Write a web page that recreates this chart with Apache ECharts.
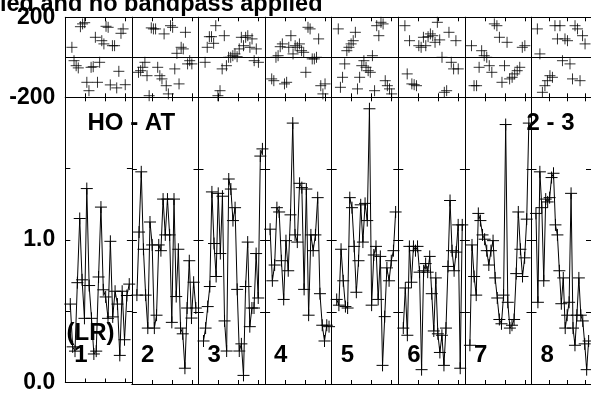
<!DOCTYPE html>
<html>
<head>
<meta charset="utf-8">
<script src="https://cdn.jsdelivr.net/npm/echarts@6/dist/echarts.min.js"></script>
<style>
html, body { margin: 0; padding: 0; background: #fff; }
#main { width: 591px; height: 394px; }
</style>
</head>
<body>
<div id="main"></div>
<script>
// amplitude per scan (lower panel)
var amp1 = [0.55, 0.25, 0.22, 0.70, 1.15, 0.72, 0.45, 1.36, 0.68, 0.45, 0.20, 0.22, 0.74, 1.23, 0.65, 0.60, 0.45, 0.99, 0.46, 0.64, 0.55, 0.19, 0.64, 0.30, 0.61, 0.69];
var amp2 = [0.62, 1.06, 1.48, 0.94, 0.62, 0.39, 1.13, 0.97, 0.39, 0.48, 0.97, 0.93, 1.29, 1.04, 1.29, 1.04, 0.43, 1.29, 0.61, 0.94, 0.39, 0.35, 0.11, 0.53, 0.86, 0.46, 0.71, 0.53];
var amp3 = [0.30, 0.39, 0.54, 0.68, 1.34, 0.98, 0.75, 1.33, 0.91, 1.31, 0.44, 0.23, 1.43, 1.36, 1.14, 1.23, 0.66, 0.23, 0.28, 0.06, 0.68, 0.99, 0.40, 0.53, 0.53, 0.91, 0.60, 1.59, 1.64];
var amp4 = [1.08, 0.72, 0.83, 1.23, 1.20, 0.86, 0.59, 1.00, 0.79, 1.18, 1.82, 1.04, 0.99, 1.40, 1.37, 0.66, 1.36, 0.48, 1.04, 0.93, 1.04, 1.30, 0.63, 0.41, 0.30, 0.41, 0.40];
var amp5 = [0.59, 0.55, 0.94, 0.72, 0.54, 0.53, 1.30, 1.23, 0.96, 0.64, 0.86, 1.25, 0.99, 1.26, 1.14, 1.92, 0.55, 0.90, 0.96, 0.59, 0.89, 0.13, 0.47, 0.81, 0.72, 0.86, 0.93, 1.20];
var amp6 = [0.39, 0.67, 0.34, 0.96, 0.71, 0.96, 0.93, 0.96, 0.78, 0.10, 0.79, 0.84, 0.78, 0.89, 0.63, 0.37, 0.74, 0.35, 0.22, 0.34, 0.13, 0.39, 0.82, 1.28, 0.93, 0.79, 0.92, 1.11, 0.11, 1.11];
var amp7 = [0.27, 0.97, 0.75, 0.62, 1.19, 1.14, 1.04, 1.01, 0.93, 0.83, 0.93, 1.00, 0.74, 0.60, 0.45, 0.42, 0.62, 1.81, 0.57, 0.39, 0.41, 0.45, 0.77, 1.20, 0.94, 0.75, 0.88, 1.15, 1.82];
var amp8 = [1.19, 0.57, 1.48, 1.23, 0.72, 1.29, 1.27, 1.30, 1.44, 1.47, 1.11, 1.04, 0.79, 0.56, 0.74, 0.39, 0.48, 0.57, 1.33, 0.39, 0.27, 0.48, 0.74, 0.48, 0.44, 0.28, 0.10, 0.30];

// phase per scan (upper panel), degrees
var ph1 = [50, -17, -42, -53, 153, 167, 173, -125, -167, -50, -47, 100, -125, -25, 83, 67, 155, 150, -138, 58, 58, -153, -70, 120, 142, -137];
var ph2 = [-75, -67, -50, -25, -92, -192, 147, 142, 142, -50, -92, -108, 117, -142, -183, 158, 150, -58, 20, -133, 50, 42, 125, -33, -17, -33];
var ph3 = [-25, 50, 103, 103, 70, 158, -192, -167, -58, 108, -42, 0, 0, 8, 17, 3, 42, 100, 58, 100, 108, 50, 92, -17, 42, -25];
var ph4 = [-108, -117, 0, 8, 53, 67, -133, -125, 50, 108, 17, 58, 50, 67, 33, 25, -75, 150, 142, -8, -8, 0, 92, -142, -183, -133];
var ph5 = [142, -150, -100, -33, 33, 50, 67, 83, 125, -158, -100, -42, -17, -50, -67, -75, 8, -167, 158, 108, 175, 167, -117, -142, -158, -183];
var ph6 = [158, -83, 83, -133, -137, -142, 58, 50, 100, 58, 103, 117, 108, 75, 175, 87, 0, -175, -167, 125, -25, -58, 83, -58];
var ph7 = [58, -142, -142, -50, 33, 8, 0, -42, -75, 167, 158, 100, -125, -42, 75, -108, -100, -83, -67, -50, 50, 58];
var ph8 = [142, 17, -175, -142, -117, -92, -100, 158, 92, 158, -17, 92, 83, -33, -108, 158, 142, -117, 108, 67];

var scanNames = ['1', '2', '3', '4', '5', '6', '7', '8'];
var baselineName = 'HO - AT';
var ifName = '2 - 3';
var polName = '(LR)';
var titleText = 'ied and no bandpass applied';
var ampLabels = { 0: '0.0', 1: '1.0' };
var phLabels = { 200: '200', '-200': '-200' };

var amps = [amp1, amp2, amp3, amp4, amp5, amp6, amp7, amp8];
var phs = [ph1, ph2, ph3, ph4, ph5, ph6, ph7, ph8];

var FONT = '"Liberation Sans", Arial, Helvetica, sans-serif';
var segLeft = 65.3, segW = 66.6;
var phTop = 17.3, phH = 80;
var ampTop = 97.3, ampH = 286.7;
var tMax = 10 / 3;
var cross = 'path://M0 6L12 6M6 0L6 12';

// sample time inside a scan (evenly spaced)
function tAt(k, n, t0, t1) {
	return t0 + k * (t1 - t0) / (n - 1);
}

function mkX(g, pos) {
	return {
		type: 'value', gridIndex: g, position: pos, min: 0, max: tMax, interval: 1,
		axisLine: { show: true, onZero: false, lineStyle: { color: '#000', width: 1 } },
		axisTick: { show: true, inside: true, length: 4, lineStyle: { color: '#000' } },
		axisLabel: { show: false },
		splitLine: { show: false }
	};
}

function mkY(g, pos, isAmp, withLabel) {
	var y = {
		type: 'value', gridIndex: g, position: pos,
		axisLine: { show: true, onZero: false, lineStyle: { color: '#000', width: 1 } },
		axisLabel: {
			show: withLabel, margin: 10, color: '#000',
			fontFamily: FONT, fontWeight: 'bold', fontSize: 23
		}
	};
	if (isAmp) {
		y.min = 0; y.max = 2; y.interval = 0.5;
		y.axisTick = { show: true, inside: true, length: 5, lineStyle: { color: '#000' } };
		y.splitLine = { show: false };
		y.axisLabel.formatter = function (v) { return ampLabels[v] || ''; };
	} else {
		y.min = -200; y.max = 200; y.interval = 200;
		y.axisTick = { show: false };
		y.splitLine = { show: pos === 'left', lineStyle: { color: '#000', width: 1 } };
		y.axisLabel.formatter = function (v) { return phLabels[v] || ''; };
	}
	return y;
}

var grids = [], xAxes = [], yAxes = [], series = [];
for (var i = 0; i < 8; i++) {
	var left = segLeft + i * segW;
	var gp = grids.length;
	grids.push({ left: left, top: phTop, width: segW, height: phH });
	var ga = grids.length;
	grids.push({ left: left, top: ampTop, width: segW, height: ampH });

	[gp, ga].forEach(function (g) {
		xAxes.push(mkX(g, 'bottom'));
		xAxes.push(mkX(g, 'top'));
		var isAmp = (g % 2 === 1);
		yAxes.push(mkY(g, 'left', isAmp, g < 2));
		yAxes.push(mkY(g, 'right', isAmp, false));
	});

	var a = amps[i];
	series.push({
		type: 'line', xAxisIndex: 2 * ga, yAxisIndex: 2 * ga,
		data: a.map(function (v, k) { return [tAt(k, a.length, 0.25, 3.2), v]; }),
		symbol: cross, symbolSize: 12, showSymbol: true,
		lineStyle: { color: '#000', width: 1 },
		itemStyle: { color: '#000', borderColor: '#000', borderWidth: 1 },
		emphasis: { disabled: true }, silent: true
	});
	var p = phs[i];
	series.push({
		type: 'scatter', xAxisIndex: 2 * gp, yAxisIndex: 2 * gp,
		data: p.map(function (v, k) { return [tAt(k, p.length, 0.33, 3.0), v]; }),
		symbol: cross, symbolSize: 11,
		itemStyle: { color: '#000', borderColor: '#000', borderWidth: 1 },
		emphasis: { disabled: true }, silent: true
	});
}

function label(text, x, y, size) {
	return {
		type: 'text', x: x, y: y, z: 100,
		style: {
			text: text, font: 'bold ' + size + 'px ' + FONT, fill: '#000',
			textAlign: 'left', textVerticalAlign: 'middle', align: 'left', verticalAlign: 'middle'
		}
	};
}

var graphics = [
	label(titleText, 0, 4.5, 23.5),
	label(baselineName, 87.5, 123.5, 24),
	label(ifName, 526.5, 123.5, 24),
	label(polName, 66.5, 333.5, 24)
];
scanNames.forEach(function (s, k) {
	graphics.push(label(s, segLeft + k * segW + 9, 355.5, 24));
});

var myChart = echarts.init(document.getElementById('main'), null, { renderer: 'canvas' });
myChart.setOption({
	animation: false,
	grid: grids,
	xAxis: xAxes,
	yAxis: yAxes,
	series: series,
	graphic: graphics
});
</script>
</body>
</html>
